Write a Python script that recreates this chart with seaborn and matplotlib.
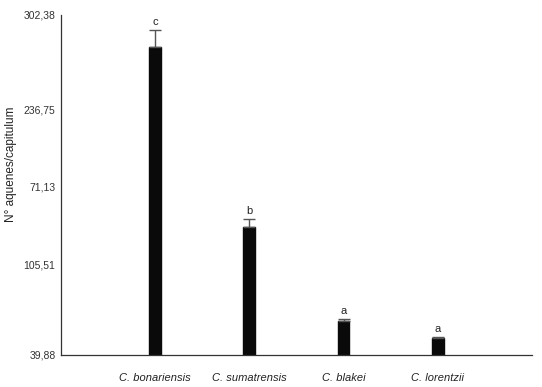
import matplotlib
matplotlib.use("Agg")
import matplotlib.pyplot as plt
import seaborn as sns
import pandas as pd

species = ["C. bonariensis", "C. sumatrensis", "C. blakei", "C. lorentzii"]
means = [277.5, 138.7, 66.1, 53.0]
errors = [13.1, 5.7, 1.3, 0.4]
letters = ["c", "b", "a", "a"]
tick_values = [39.88, 109.7, 170.1, 229.4, 302.38]
tick_labels = ["39,88", "105,51", "71,13", "236,75", "302,38"]

sns.set_style("white")
plt.rcParams["font.family"] = ["Liberation Sans", "DejaVu Sans"]

df = pd.DataFrame({"species": species, "mean": means})

fig = plt.figure(figsize=(5.42, 3.87), dpi=100)
ax = fig.add_axes([0.1125, 0.0835, 0.869, 0.8785])

sns.barplot(data=df, x="species", y="mean", color="#0a0a0a", width=0.125,
            saturation=1, errorbar=None, ax=ax, edgecolor="#0a0a0a")

xs = list(range(len(species)))
ax.errorbar(xs, means, yerr=[[0] * len(errors), errors], fmt="none",
            ecolor="#555555", elinewidth=1.0, capsize=4.3, capthick=1.0)
for x, m, e, l in zip(xs, means, errors, letters):
    ax.text(x, m + e + 2.5, l, ha="center", va="bottom", fontsize=8, color="#222222")

ax.set_xlim(-1, 4)
ax.set_ylim(39.88, 302.38)
ax.set_yticks(tick_values)
ax.set_yticklabels(tick_labels, fontsize=7.5, color="#333333")
ax.set_xticks(xs + [4])
ax.set_xticklabels(species + [""], fontsize=8, style="italic", color="#222222")
ax.tick_params(axis="x", direction="out", length=3, width=0.8, color="#333333", pad=10)
ax.tick_params(axis="y", direction="out", length=3, width=0.8, color="#333333", pad=1)
ax.set_xlabel("")
ax.set_ylabel("N° aquenes/capitulum", fontsize=8.5, color="#222222")
ax.yaxis.set_label_coords(-0.094, 0.561)

for s in ["top", "right"]:
    ax.spines[s].set_visible(False)
for s in ["left", "bottom"]:
    ax.spines[s].set_color("#333333")
    ax.spines[s].set_linewidth(0.9)

fig.savefig("out.png", dpi=100)
